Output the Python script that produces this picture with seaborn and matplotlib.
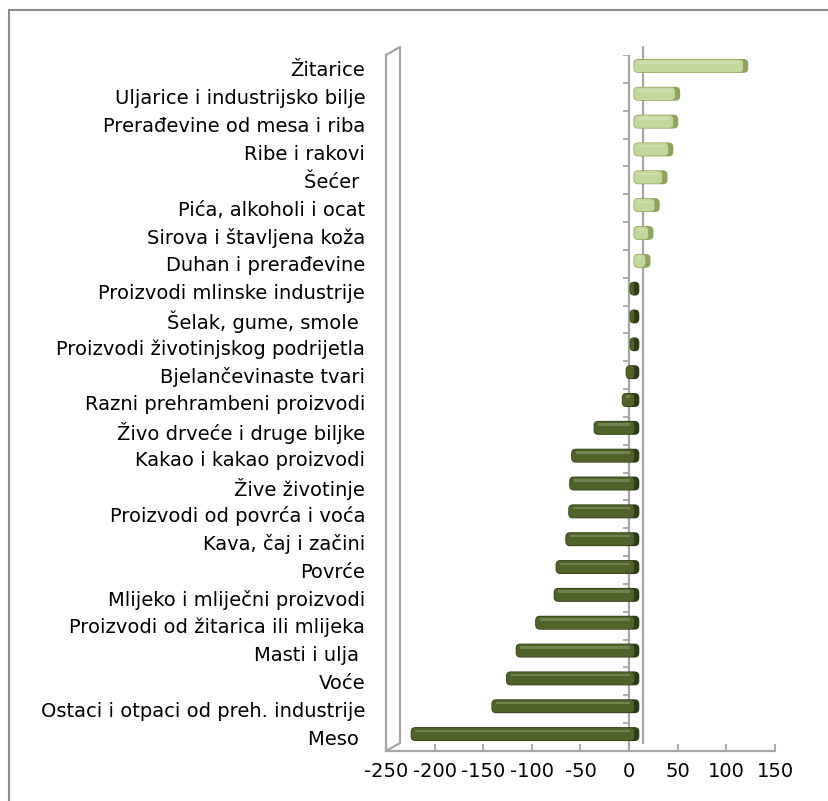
import matplotlib
matplotlib.use("Agg")
import matplotlib.pyplot as plt
import matplotlib.patches as mpatches
from matplotlib.lines import Line2D
from matplotlib.transforms import ScaledTranslation
import seaborn as sns
import pandas as pd

categories = [
    "Žitarice",
    "Uljarice i industrijsko bilje",
    "Prerađevine od mesa i riba",
    "Ribe i rakovi",
    "Šećer ",
    "Pića, alkoholi i ocat",
    "Sirova i štavljena koža",
    "Duhan i prerađevine",
    "Proizvodi mlinske industrije",
    "Šelak, gume, smole ",
    "Proizvodi životinjskog podrijetla",
    "Bjelančevinaste tvari",
    "Razni prehrambeni proizvodi",
    "Živo drveće i druge biljke",
    "Kakao i kakao proizvodi",
    "Žive životinje",
    "Proizvodi od povrća i voća",
    "Kava, čaj i začini",
    "Povrće",
    "Mlijeko i mliječni proizvodi",
    "Proizvodi od žitarica ili mlijeka",
    "Masti i ulja ",
    "Voće",
    "Ostaci i otpaci od preh. industrije",
    "Meso ",
]
values = [112, 42, 40, 35, 29, 21, 14.5, 11.5,
          -4, -4, -4, -8, -12, -41, -64, -66, -67, -70,
          -80, -82, -101, -121, -131, -146, -229]
x_ticks = [-250, -200, -150, -100, -50, 0, 50, 100, 150]

df = pd.DataFrame({"cat": categories, "val": values})
df["sign"] = ["pos" if v > 0 else "neg" for v in values]

W, H, DPI = 829, 801, 100
fig = plt.figure(figsize=(W / DPI, H / DPI), dpi=DPI)
sns.set_style("white")
plt.rcParams["font.family"] = ["DejaVu Sans"]

ax_left, ax_right = 386 / W, 775 / W
ax_bottom, ax_top = (H - 751) / H, (H - 55) / H
ax = fig.add_axes([ax_left, ax_bottom, ax_right - ax_left, ax_top - ax_bottom])

pal = {"pos": "#c3d69b", "neg": "#4f6228"}
edges = {"pos": "#8ea35c", "neg": "#2f3b17"}
sns.barplot(data=df, x="val", y="cat", hue="sign", palette=pal, dodge=False,
            orient="h", width=0.45, legend=False, ax=ax, saturation=1)

ax.set_xlim(-250, 150)
ax.set_ylim(len(categories) - 0.5, -0.5)

grey = "#a6a6a6"
px_per_unit = (ax_right - ax_left) * W / 400.0
px_per_cat = (ax_top - ax_bottom) * H / len(categories)
bar_shift = ScaledTranslation(5 / DPI, 3 / DPI, fig.dpi_scale_trans)
side_w = 4.5 / px_per_unit
aspect = (4 / px_per_cat) / (4 / px_per_unit)

# replace the flat bars with rounded, shaded ones
for p in list(ax.patches):
    x0 = min(p.get_x(), p.get_x() + p.get_width())
    w = abs(p.get_width())
    y0, h = p.get_y(), p.get_height()
    key = "pos" if p.get_width() > 0 else "neg"
    face = p.get_facecolor()
    p.remove()
    # visible right-hand side face of the 3D bar
    full_w = w + side_w
    r = min(4 / px_per_unit, full_w / 2)
    side = mpatches.FancyBboxPatch((x0, y0), full_w, h,
                                   boxstyle=f"round,pad=0,rounding_size={r}",
                                   mutation_aspect=aspect,
                                   facecolor=edges[key], edgecolor=edges[key],
                                   lw=1.0, transform=ax.transData + bar_shift,
                                   zorder=2)
    ax.add_patch(side)
    # front face spanning the value
    rf = min(4 / px_per_unit, w / 2)
    front = mpatches.FancyBboxPatch((x0, y0), w, h,
                                    boxstyle=f"round,pad=0,rounding_size={rf}",
                                    mutation_aspect=aspect, facecolor=face,
                                    edgecolor="none",
                                    transform=ax.transData + bar_shift,
                                    zorder=2.1)
    ax.add_patch(front)
    # highlight along the top of each bar
    hl = mpatches.Rectangle((x0 + rf, y0 + h * 0.14), max(w - 2 * rf, 0), h * 0.2,
                            facecolor="white", edgecolor="none", alpha=0.2,
                            transform=ax.transData + bar_shift, zorder=2.2)
    ax.add_patch(hl)

# front value axis at zero with category separators
ax.axvline(0, color=grey, lw=1.6, zorder=0.5)
bounds = [i - 0.5 for i in range(len(categories) + 1)]
ax.hlines(bounds, -6.5, 0, color=grey, lw=1.3, zorder=0.5)

# receding wall edges
depth = ScaledTranslation(14 / DPI, 8 / DPI, fig.dpi_scale_trans)
xt = ax.get_xaxis_transform()
for xv in (0, -250):
    ax.add_line(Line2D([xv, xv], [0, 1], color=grey, lw=1.6,
                       transform=xt + depth, clip_on=False, zorder=0.4))
dx = 14 / px_per_unit
dy = 8 / ((ax_top - ax_bottom) * H)
for ya in (0, 1):
    ax.add_line(Line2D([-250, -250 + dx], [ya, ya + dy], color=grey, lw=1.6,
                       transform=xt, clip_on=False))

for s in ("top", "right"):
    ax.spines[s].set_visible(False)
for s in ("left", "bottom"):
    ax.spines[s].set_color(grey)
    ax.spines[s].set_linewidth(1.6)

ax.set_xticks(x_ticks)
ax.set_xticklabels([str(t) for t in x_ticks])
ax.tick_params(axis="x", direction="in", length=5, width=1.3, color=grey,
               pad=8, labelsize=14, labelcolor="black", bottom=True)
ax.tick_params(axis="y", length=0, pad=15, labelsize=14, labelcolor="black")
ax.set_xlabel("")
ax.set_ylabel("")

# chart border
fig.patches.append(mpatches.Rectangle((9 / W, -0.1), 1.2, 1 - 10 / H + 0.1,
                                      transform=fig.transFigure, fill=False,
                                      edgecolor="#8c8c8c", lw=1.5))

fig.savefig("out.png", dpi=DPI)
